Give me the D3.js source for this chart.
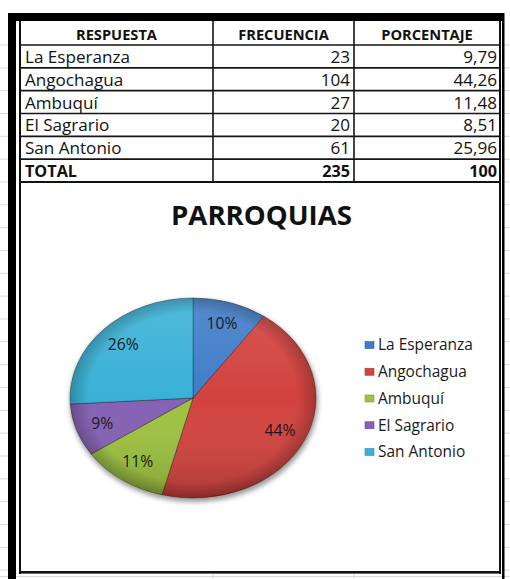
<!DOCTYPE html>
<html>
<head>
<meta charset="utf-8">
<script src="https://cdn.jsdelivr.net/npm/d3@7"></script>
<style>
  html, body { margin: 0; padding: 0; background: #fff; }
  svg { display: block; }
</style>
</head>
<body>
<svg id="chart" width="510" height="579"></svg>
<script>
// ---------- DATA ----------
const headers = ["RESPUESTA", "FRECUENCIA", "PORCENTAJE"];
const categories = ["La Esperanza", "Angochagua", "Ambuquí", "El Sagrario", "San Antonio"];
const frequencies = [23, 104, 27, 20, 61];
const percentages = ["9,79", "44,26", "11,48", "8,51", "25,96"];
const totalRow = ["TOTAL", "235", "100"];
const pieLabels = ["10%", "44%", "11%", "9%", "26%"];
const chartTitle = "PARROQUIAS";
const colors = ["#3f7cc8", "#d2423e", "#9dc23f", "#8560b3", "#39b1d6"];

// ---------- SETUP ----------
const FONT = "'Open Sans', Lato, sans-serif";
const svg = d3.select("#chart");
const defs = svg.append("defs");

// measure helper
const meas = svg.append("text").attr("x", -1000).attr("y", -1000).attr("font-family", FONT);
function sizeFor(text, target, weight) {
  meas.attr("font-size", 100).attr("font-weight", weight).text(text);
  const w = meas.node().getComputedTextLength();
  return 100 * target / w;
}

// ---------- faint spreadsheet gridlines outside the frame ----------
const grid = svg.append("g").attr("stroke", "#d9d9d9").attr("stroke-width", 1);
const gridYs = d3.range(45, 579, 22.83);
gridYs.forEach(y => {
  grid.append("line").attr("x1", 0).attr("x2", 8).attr("y1", y).attr("y2", y);
  grid.append("line").attr("x1", 504).attr("x2", 510).attr("y1", y).attr("y2", y);
});
grid.append("line").attr("x1", 0).attr("x2", 510).attr("y1", 576.5).attr("y2", 576.5);
[213, 354].forEach(x => grid.append("line").attr("x1", x).attr("x2", x).attr("y1", 574).attr("y2", 579));

// ---------- TABLE ----------
const colX = [20, 213, 354, 500];
const rowTops = d3.range(0, 8).map(i => i === 0 ? 21 : 45 + (i - 1) * 22.83);
const tbl = svg.append("g");

tbl.selectAll("line.h").data(rowTops.slice(1)).join("line")
  .attr("x1", 20).attr("x2", 500).attr("y1", d => d).attr("y2", d => d)
  .attr("stroke", "#151515").attr("stroke-width", 1.7);
tbl.selectAll("line.v").data(colX.slice(1, 3)).join("line")
  .attr("x1", d => d).attr("x2", d => d).attr("y1", 21).attr("y2", 182)
  .attr("stroke", "#151515").attr("stroke-width", 1.6);

const headSize = sizeFor(headers[0], 81, "bold");
headers.forEach((h, i) => {
  tbl.append("text").attr("x", (colX[i] + colX[i + 1]) / 2).attr("y", 40)
    .attr("text-anchor", "middle").attr("font-family", FONT).attr("font-weight", "bold")
    .attr("font-size", headSize).attr("fill", "#111").text(h);
});

const bodySize = sizeFor(categories[0], 105, "normal");
categories.forEach((c, i) => {
  const base = rowTops[i + 1] + 18;
  tbl.append("text").attr("x", 25).attr("y", base).attr("font-family", FONT)
    .attr("font-size", bodySize).attr("fill", "#111").text(c);
  tbl.append("text").attr("x", 350).attr("y", base).attr("text-anchor", "end").attr("font-family", FONT)
    .attr("font-size", bodySize).attr("fill", "#111").text(frequencies[i]);
  tbl.append("text").attr("x", 497).attr("y", base).attr("text-anchor", "end").attr("font-family", FONT)
    .attr("font-size", bodySize).attr("fill", "#111").text(percentages[i]);
});
const totBase = rowTops[6] + 18;
const totSize = sizeFor(totalRow[0], 52, "bold");
[[25, "start"], [350, "end"], [497, "end"]].forEach(([x, anc], i) => {
  tbl.append("text").attr("x", x).attr("y", totBase).attr("text-anchor", anc)
    .attr("font-family", FONT).attr("font-weight", "bold").attr("font-size", totSize)
    .attr("fill", "#111").text(totalRow[i]);
});

// ---------- FRAME ----------
const frame = svg.append("g");
frame.append("rect").attr("x", 8).attr("y", 13).attr("width", 496).attr("height", 8).attr("fill", "#000");
frame.append("rect").attr("x", 8).attr("y", 13).attr("width", 8).attr("height", 566).attr("fill", "#000");
frame.append("rect").attr("x", 502).attr("y", 13).attr("width", 2.5).attr("height", 566).attr("fill", "#000");
frame.append("rect").attr("x", 19).attr("y", 21).attr("width", 2).attr("height", 553).attr("fill", "#111");
frame.append("rect").attr("x", 499).attr("y", 21).attr("width", 2).attr("height", 553).attr("fill", "#111");
frame.append("rect").attr("x", 19).attr("y", 571).attr("width", 482).attr("height", 2.6).attr("fill", "#111");
frame.append("rect").attr("x", 19).attr("y", 181).attr("width", 482).attr("height", 2).attr("fill", "#111");

// ---------- TITLE ----------
const titleSize = sizeFor(chartTitle, 181, "bold");
svg.append("text").attr("x", 261.5).attr("y", 225).attr("text-anchor", "middle")
  .attr("font-family", FONT).attr("font-weight", "bold").attr("font-size", titleSize)
  .attr("fill", "#111").text(chartTitle);

// ---------- PIE ----------
const cx = 193, cy = 398, rx = 123, ry = 100;
const R = 100;
const pie = d3.pie().sort(null).value(d => d)(frequencies);
const arc = d3.arc().innerRadius(0).outerRadius(R);
const labelArc = d3.arc().innerRadius(R * 0.78).outerRadius(R * 0.78);

// shadow
const blur = defs.append("filter").attr("id", "blur").attr("x", "-20%").attr("y", "-20%").attr("width", "140%").attr("height", "140%");
blur.append("feGaussianBlur").attr("stdDeviation", 2.5);
svg.append("ellipse").attr("cx", cx + 1).attr("cy", cy + 3).attr("rx", rx + 1).attr("ry", ry + 1)
  .attr("fill", "rgba(0,0,0,0.4)").attr("filter", "url(#blur)");

// gradients
const shade = defs.append("linearGradient").attr("id", "shade").attr("x1", 0).attr("y1", 0).attr("x2", 0).attr("y2", 1);
shade.append("stop").attr("offset", "0%").attr("stop-color", "#fff").attr("stop-opacity", 0.12);
shade.append("stop").attr("offset", "50%").attr("stop-color", "#fff").attr("stop-opacity", 0);
shade.append("stop").attr("offset", "100%").attr("stop-color", "#000").attr("stop-opacity", 0.18);
const rim = defs.append("radialGradient").attr("id", "rim").attr("cx", 0.5).attr("cy", 0.5).attr("r", 0.5);
rim.append("stop").attr("offset", "85%").attr("stop-color", "#000").attr("stop-opacity", 0);
rim.append("stop").attr("offset", "100%").attr("stop-color", "#000").attr("stop-opacity", 0.22);

const pg = svg.append("g").attr("transform", `translate(${cx},${cy}) scale(${rx / R},${ry / R})`);
pg.selectAll("path.slice").data(pie).join("path").attr("class", "slice")
  .attr("d", arc).attr("fill", (d, i) => colors[i])
  .attr("stroke", "rgba(0,0,0,0.35)").attr("stroke-width", 0.9).attr("vector-effect", "non-scaling-stroke");
pg.append("circle").attr("r", R).attr("fill", "url(#shade)");
pg.append("circle").attr("r", R).attr("fill", "url(#rim)");

// labels
const lblSize = sizeFor(pieLabels[0], 31, "normal");
svg.append("g").selectAll("text").data(pie).join("text")
  .attr("x", d => cx + labelArc.centroid(d)[0] * rx / R)
  .attr("y", d => cy + labelArc.centroid(d)[1] * ry / R)
  .attr("dy", "0.35em").attr("text-anchor", "middle")
  .attr("font-family", FONT).attr("font-size", lblSize).attr("fill", "#1a1a1a")
  .text((d, i) => pieLabels[i]);

// ---------- LEGEND ----------
const legSize = sizeFor(categories[0], 95, "normal");
const legY = d3.scalePoint().domain(categories).range([345, 452]);
const leg = svg.append("g");
categories.forEach((c, i) => {
  const y = legY(c);
  leg.append("rect").attr("x", 365).attr("y", y - 3.5).attr("width", 9).attr("height", 7)
    .attr("fill", colors[i]).attr("stroke", d3.color(colors[i]).darker(0.6)).attr("stroke-width", 0.6);
  leg.append("text").attr("x", 378).attr("y", y).attr("dy", "0.35em")
    .attr("font-family", FONT).attr("font-size", legSize).attr("fill", "#1a1a1a").text(c);
});
meas.remove();
</script>
</body>
</html>
